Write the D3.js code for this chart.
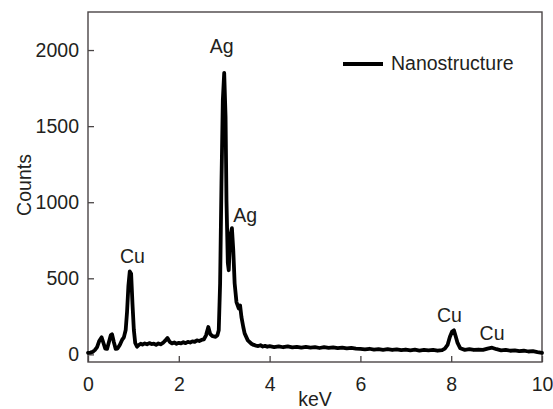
<!DOCTYPE html>
<html>
<head>
<meta charset="utf-8">
<script src="https://cdn.jsdelivr.net/npm/d3@7"></script>
<style>
body { margin:0; background:#fff; }
text { font-family: "Liberation Sans", Arial, sans-serif; fill:#231f20; }
</style>
</head>
<body>
<svg id="chart" width="553" height="409"></svg>
<script>

// data
var keV = [0.00,0.05,0.10,0.15,0.20,0.25,0.30,0.34,0.38,0.42,0.46,0.50,0.53,0.57,0.61,0.65,0.70,0.75,0.79,0.83,
           0.86,0.89,0.92,0.95,0.98,1.01,1.04,1.08,1.12,1.16,1.20,1.25,1.30,1.35,1.40,1.45,1.50,1.55,1.60,1.65,
           1.70,1.75,1.80,1.85,1.90,1.95,2.00,2.05,2.10,2.15,2.20,2.25,2.30,2.35,2.40,2.45,2.50,2.55,2.60,2.65,
           2.69,2.73,2.77,2.81,2.85,2.88,2.91,2.94,2.97,3.00,3.03,3.05,3.08,3.10,3.13,3.17,3.20,3.23,3.27,3.32,
           3.35,3.38,3.42,3.45,3.52,3.60,3.65,3.70,3.75,3.80,3.85,3.90,3.95,4.00,4.10,4.20,4.30,4.40,4.50,4.60,
           4.70,4.80,4.90,5.00,5.10,5.20,5.30,5.40,5.50,5.60,5.70,5.80,5.90,6.00,6.10,6.20,6.30,6.40,6.50,6.60,
           6.70,6.80,6.90,7.00,7.10,7.20,7.30,7.40,7.50,7.60,7.70,7.80,7.86,7.92,7.97,8.02,8.06,8.10,8.14,8.20,
           8.30,8.40,8.50,8.60,8.70,8.80,8.90,9.00,9.10,9.20,9.30,9.40,9.50,9.60,9.70,9.80,9.90,10.0];
var counts = [10,12,16,28,48,90,112,75,38,36,80,125,132,80,36,38,62,95,112,160,
              280,450,545,530,330,160,75,50,62,70,64,72,66,74,68,70,63,72,66,75,
              90,108,82,72,78,70,76,72,80,74,82,78,86,82,92,88,95,98,125,180,
              135,122,118,115,125,158,467,1125,1671,1850,1560,1013,600,553,772,830,684,467,344,302,
              322,245,180,138,92,70,62,58,55,60,52,56,50,54,48,53,47,52,46,50,
              44,49,45,48,42,47,43,46,41,45,39,43,38,36,33,37,31,35,30,34,
              29,33,28,32,27,31,25,30,26,29,24,28,38,62,114,150,158,118,75,40,
              30,34,29,32,30,38,44,34,27,30,24,27,21,24,19,21,15,10];

var xTicks = [0,2,4,6,8,10];
var yTicks = [0,500,1000,1500,2000];

var peakNames = ['Cu','Ag','Ag','Cu','Cu'];
var peakKeV = [0.98,2.945,3.46,7.96,8.9];
var peakCounts = [599,1980,870,212,92];

var seriesName = 'Nanostructure';

// layout
var canvasWidth = 553;
var canvasHeight = 409;
var margin = {left:88, right:11, top:12, bottom:47};
var colorText = '#231f20';
var colorAxis = '#4a4546';
var fontSize = '19.5px';

var svg = d3.select('#chart');

var x = d3.scaleLinear()
          .domain([0,10])
          .range([margin.left, canvasWidth-margin.right]);
var y = d3.scaleLinear()
          .domain([-50,2250])
          .range([canvasHeight-margin.bottom, margin.top]);

// frame
svg.append('rect')
   .attr('x',x(0))
   .attr('y',y(2250))
   .attr('width',x(10)-x(0))
   .attr('height',y(-50)-y(2250))
   .attr('fill','none')
   .attr('stroke',colorAxis)
   .attr('stroke-width',1.4);

// axes (ticks point inward)
var xAxis = svg.append('g')
               .attr('transform','translate(0,'+y(-50)+')')
               .call(d3.axisBottom(x).tickValues(xTicks).tickFormat(d3.format('d'))
                       .tickSizeInner(-6).tickSizeOuter(0).tickPadding(15));
var yAxis = svg.append('g')
               .attr('transform','translate('+x(0)+',0)')
               .call(d3.axisLeft(y).tickValues(yTicks).tickFormat(d3.format('d'))
                       .tickSizeInner(-6).tickSizeOuter(0).tickPadding(9));

[xAxis, yAxis].forEach(function(a){
  a.select('.domain').remove();
  a.selectAll('line').attr('stroke',colorAxis).attr('stroke-width',1.3);
  a.selectAll('text')
   .style('font-family','"Liberation Sans", Arial, sans-serif')
   .style('font-size',fontSize)
   .attr('fill',colorText);
});

// spectrum
var line = d3.line()
             .x(function(d,i){ return x(keV[i]); })
             .y(function(d){ return y(d); });

svg.append('path')
   .datum(counts)
   .attr('d',line)
   .attr('fill','none')
   .attr('stroke','#000')
   .attr('stroke-width',3.8)
   .attr('stroke-linejoin','round')
   .attr('stroke-linecap','round');

// peak labels
svg.selectAll('.peak')
   .data(peakNames)
   .enter()
   .append('text')
   .attr('class','peak')
   .text(function(d){ return d; })
   .attr('x',function(d,i){ return x(peakKeV[i]); })
   .attr('y',function(d,i){ return y(peakCounts[i]); })
   .attr('text-anchor','middle')
   .style('font-size',fontSize);

// legend
svg.append('line')
   .attr('x1',343)
   .attr('x2',383)
   .attr('y1',64)
   .attr('y2',64)
   .attr('stroke','#000')
   .attr('stroke-width',3.8);
svg.append('text')
   .text(seriesName)
   .attr('x',391)
   .attr('y',70)
   .style('font-size',fontSize);

// axis titles
svg.append('text')
   .text('keV')
   .attr('x',(x(0)+x(10))/2)
   .attr('y',406)
   .attr('text-anchor','middle')
   .style('font-size',fontSize);
svg.append('text')
   .text('Counts')
   .attr('transform','translate(31,185) rotate(-90)')
   .attr('text-anchor','middle')
   .style('font-size',fontSize);

</script>
</body>
</html>
